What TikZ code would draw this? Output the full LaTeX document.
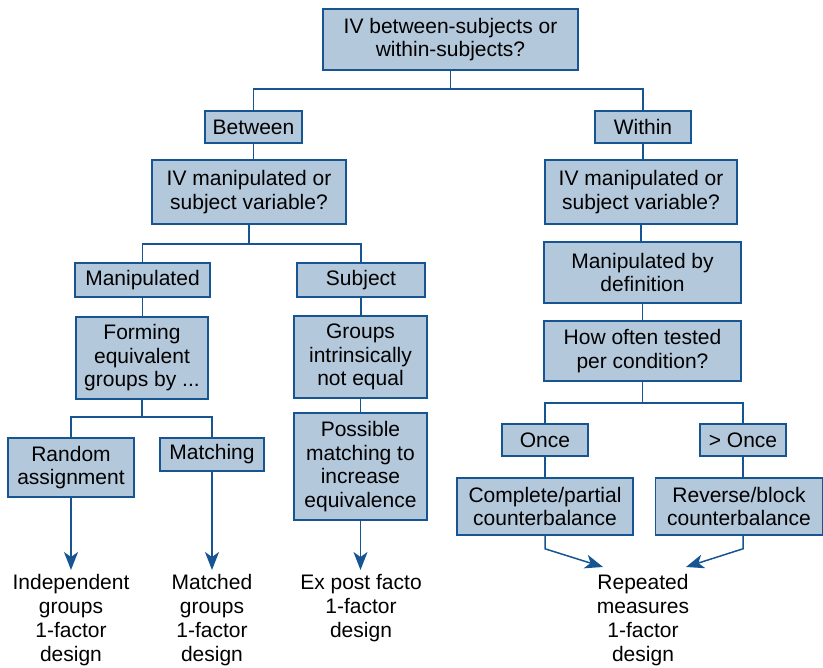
\documentclass[tikz,border=0pt]{standalone}
\usepackage{fontspec}
\setmainfont{Liberation Sans}
\usetikzlibrary{arrows.meta,calc}
\definecolor{boxfill}{RGB}{180,200,220}
\definecolor{boxline}{RGB}{22,84,146}
\tikzset{
  box/.style={draw=boxline, fill=boxfill, line width=1.6pt, align=center, inner sep=0pt,
    font=\fontsize{21}{23.5}\selectfont},
  link/.style={draw=boxline, line width=1.5pt},
  arr/.style={link, -{Stealth[length=18pt,width=14pt,inset=5pt]}},
  outcome/.style={align=center, inner sep=4pt, anchor=north, font=\fontsize{21}{24}\selectfont}
}
\begin{document}
\begin{tikzpicture}[x=1pt, y=-1pt]
\useasboundingbox (0,0) rectangle (823,668);

\node[box, minimum width=255, minimum height=61] (top) at (450.5,39.5) {IV between-subjects or\\within-subjects?};
\node[box, minimum width=97, minimum height=32] (between) at (253.5,127) {Between};
\node[box, minimum width=96, minimum height=32] (within) at (643,127) {Within};

\node[box, minimum width=194, minimum height=64] (ivL) at (249,192) {IV manipulated or\\subject variable?};
\node[box, minimum width=135, minimum height=34] (manip) at (142.5,280) {Manipulated};
\node[box, minimum width=128, minimum height=34] (subject) at (361,280) {Subject};
\node[box, minimum width=132, minimum height=82] (forming) at (142,358) {Forming\\equivalent\\groups by ...};
\node[box, minimum width=133, minimum height=82] (groups) at (360.5,357) {Groups\\intrinsically\\not equal};
\node[box, minimum width=126, minimum height=59] (random) at (71,467.5) {Random\\assignment};
\node[box, minimum width=104, minimum height=33] (matching) at (212,454.5) {Matching};
\node[box, minimum width=133, minimum height=107] (possible) at (360.5,466.5) {Possible\\matching to\\increase\\equivalence};

\node[box, minimum width=192, minimum height=64] (ivR) at (641,192) {IV manipulated or\\subject variable?};
\node[box, minimum width=197, minimum height=61] (bydef) at (642.5,272.5) {Manipulated by\\definition};
\node[box, minimum width=197, minimum height=60] (often) at (642.5,351) {How often tested\\per condition?};
\node[box, minimum width=86, minimum height=32] (once) at (545,440) {Once};
\node[box, minimum width=86, minimum height=32] (more) at (743,440) {> Once};
\node[box, minimum width=176, minimum height=57] (complete) at (545,506.5) {Complete/partial\\counterbalance};
\node[box, minimum width=167, minimum height=57] (reverse) at (739,506.5) {Reverse/block\\counterbalance};

\node[outcome] (indep) at (71,570) {Independent\\groups\\1-factor\\design};
\node[outcome] (matched) at (212,570) {Matched\\groups\\1-factor\\design};
\node[outcome] (expost) at (361,570) {Ex post facto\\1-factor\\design};
\node[outcome] (repeated) at (643,570) {Repeated\\measures\\1-factor\\design};
\coordinate (repL) at (603,567);
\coordinate (repR) at (686,567);

\draw[link] (top.south) -- ++(0,18) -| (between.north);
\draw[link] (top.south) -- ++(0,18) -| (within.north);
\draw[link] (between.south) -- (between.south |- ivL.north);
\draw[link] (ivL.south) -- ++(0,19) -| (manip.north);
\draw[link] (ivL.south) -- ++(0,19) -| (subject.north);
\draw[link] (manip.south) -- (manip.south |- forming.north);
\draw[link] (subject.south) -- (subject.south |- groups.north);
\draw[link] (forming.south) -- ++(0,17) -| (random.north);
\draw[link] (forming.south) -- ++(0,17) -| (matching.north);
\draw[link] (groups.south) -- (groups.south |- possible.north);

\draw[link] (within.south) -- (within.south |- ivR.north);
\draw[link] (ivR.south) -- (ivR.south |- bydef.north);
\draw[link] (bydef.south) -- (bydef.south |- often.north);
\draw[link] (often.south) -- ++(0,21) -| (once.north);
\draw[link] (often.south) -- ++(0,21) -| (more.north);
\draw[link] (once.south) -- (once.south |- complete.north);
\draw[link] (more.south) -- (more.south |- reverse.north);

\draw[arr] (random.south) -- (random.south |- indep.north);
\draw[arr] (matching.south) -- (matching.south |- matched.north);
\draw[arr] (possible.south) -- (possible.south |- expost.north);
\draw[arr] (complete.south) -- ++(0,13) -- (repL);
\draw[arr] (more.south |- reverse.south) -- ++(0,13) -- (repR);
\end{tikzpicture}
\end{document}
